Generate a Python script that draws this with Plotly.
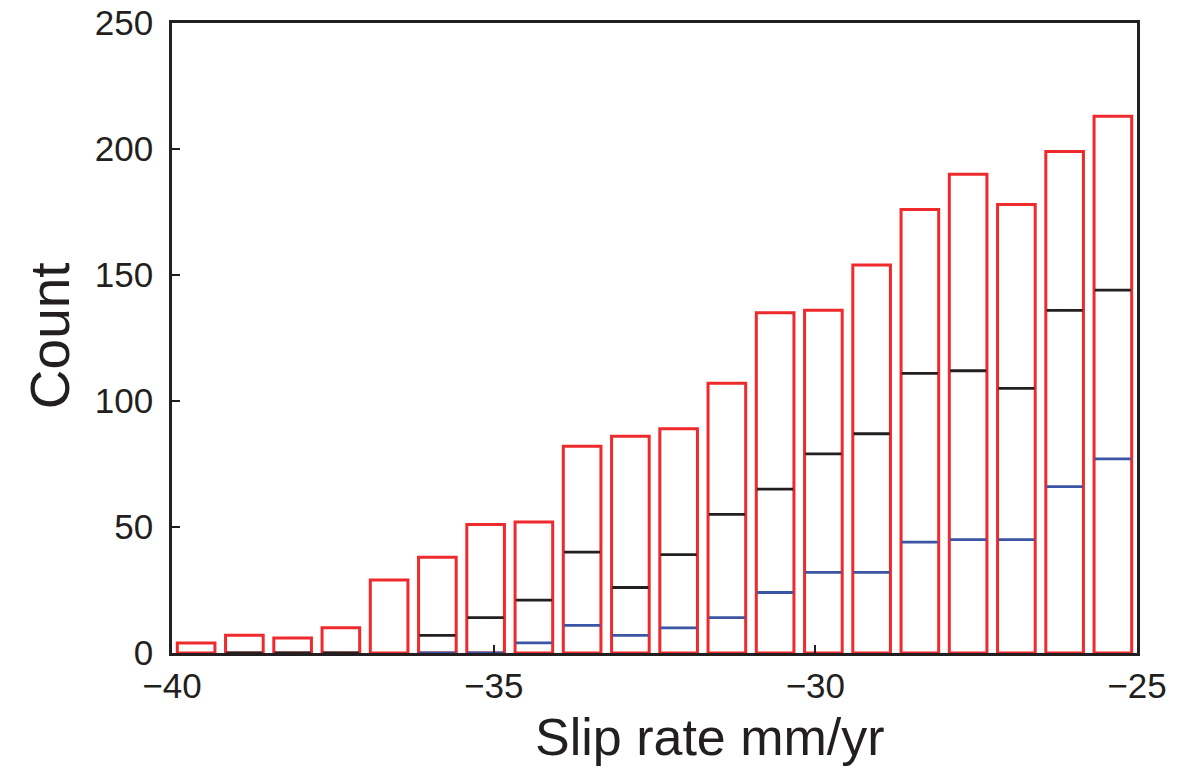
import plotly.graph_objects as go

# ---- data ----
bin_left_edges = [-40 + 0.75 * i for i in range(20)]
total_counts = [4, 7, 6, 10, 29, 38, 51, 52, 82, 86, 89, 107, 135, 136, 154, 176, 190, 178, 199, 213]
black_counts = [None, 0, 0, 0, None, 7, 14, 21, 40, 26, 39, 55, 65, 79, 87, 111, 112, 105, 136, 144]
blue_counts = [None, None, None, None, None, 0, 0, 4, 11, 7, 10, 14, 24, 32, 32, 44, 45, 45, 66, 77]
x_ticks = [-40, -35, -30, -25]
y_ticks = [0, 50, 100, 150, 200, 250]

BIN_W = 0.75
BAR_W = 0.585
HALF_LINE = 0.28

RED = "#ee2a2c"
BLACK = "#231f20"
BLUE = "#3b55a5"
FONT = "Liberation Sans, Arial, Helvetica, sans-serif"

centers = [e + BIN_W / 2 for e in bin_left_edges]


def segments(values):
    xs, ys = [], []
    for c, v in zip(centers, values):
        if v is None:
            continue
        xs += [c - HALF_LINE, c + HALF_LINE, None]
        ys += [v, v, None]
    return xs, ys


fig = go.Figure()
fig.add_trace(go.Bar(
    x=centers, y=total_counts, width=BAR_W,
    marker=dict(color="rgba(255,255,255,0)", line=dict(color=RED, width=3)),
    showlegend=False, hoverinfo="skip",
))
bx, by = segments(black_counts)
fig.add_trace(go.Scatter(x=bx, y=by, mode="lines", line=dict(color=BLACK, width=2.8),
                         showlegend=False, hoverinfo="skip", cliponaxis=False))
lx, ly = segments(blue_counts)
fig.add_trace(go.Scatter(x=lx, y=ly, mode="lines", line=dict(color=BLUE, width=2.8),
                         showlegend=False, hoverinfo="skip", cliponaxis=False))

axis_common = dict(
    showgrid=False, zeroline=False, showline=True, mirror=True, automargin=False,
    linecolor=BLACK, linewidth=2.5, ticks="inside", ticklen=8, tickwidth=2,
    tickcolor=BLACK,
)

fig.update_layout(
    width=1198, height=771,
    margin=dict(l=172, r=61, t=23, b=118),
    paper_bgcolor="white", plot_bgcolor="white",
    xaxis=dict(range=[-40, -25], tickvals=x_ticks, ticklabelstandoff=0,
               tickfont=dict(family=FONT, size=35, color=BLACK), **axis_common),
    yaxis=dict(range=[0, 250], tickvals=y_ticks, ticklabelstandoff=9,
               tickfont=dict(family=FONT, size=35, color=BLACK), **axis_common),
    annotations=[
        dict(text="Slip rate mm/yr", xref="paper", yref="paper", x=0.5575, y=-0.1326,
             xanchor="center", yanchor="middle", showarrow=False,
             font=dict(family=FONT, size=52, color=BLACK)),
        dict(text="Count", xref="paper", yref="paper", x=-0.1264, y=0.503,
             xanchor="center", yanchor="middle", showarrow=False, textangle=-90,
             font=dict(family=FONT, size=55, color=BLACK)),
    ],
)

fig.write_html("out.html")
